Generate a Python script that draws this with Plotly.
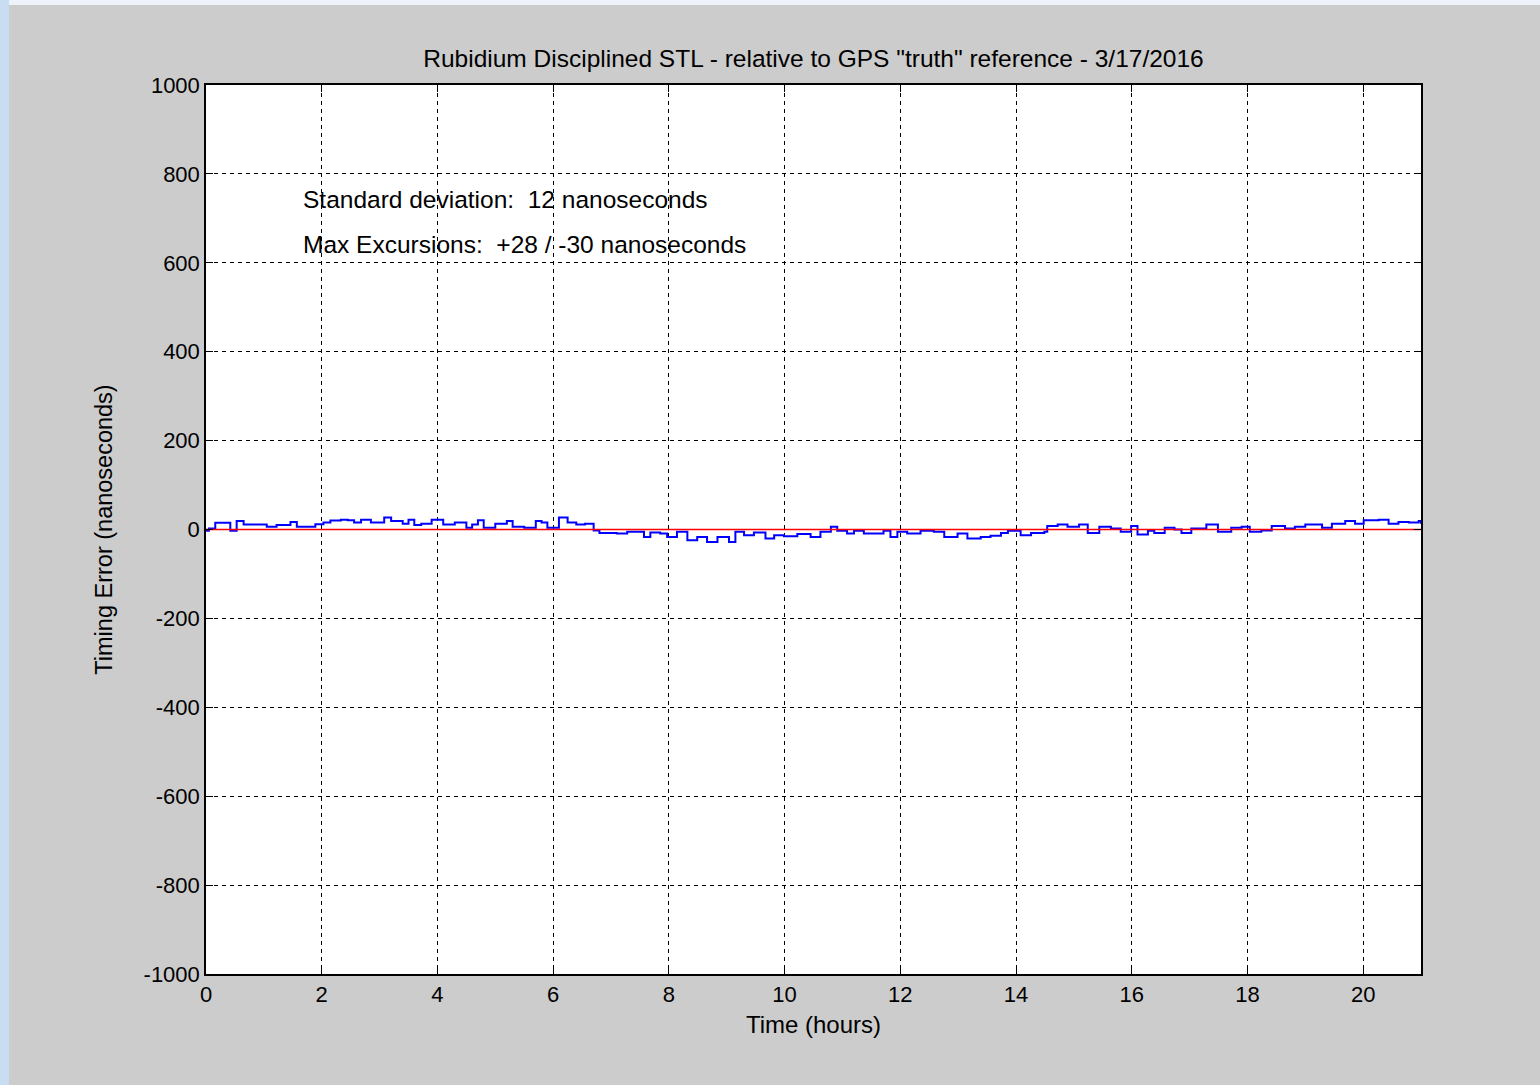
import plotly.graph_objects as go

hours = [0.0, 0.05, 0.16, 0.33, 0.42, 0.53, 0.65, 0.94, 1.05, 1.22, 1.46, 1.57, 1.80, 1.89,
         2.03, 2.15, 2.33, 2.45, 2.56, 2.68, 2.85, 3.08, 3.20, 3.30, 3.40, 3.50, 3.60, 3.72,
         3.90, 4.00, 4.10, 4.30, 4.50, 4.60, 4.70, 4.80, 5.00, 5.20, 5.30, 5.50, 5.70, 5.80,
         5.90, 6.10, 6.25, 6.40, 6.55, 6.70, 6.80,
         6.93, 7.10, 7.28, 7.40, 7.57, 7.68, 7.85, 7.97, 8.14, 8.32, 8.49, 8.66, 8.84, 9.04,
         9.15, 9.30, 9.47, 9.58, 9.67, 9.82, 9.99, 10.22, 10.45, 10.62, 10.80, 10.91, 11.08,
         11.20, 11.37, 11.54, 11.71, 11.83, 11.95, 12.12, 12.35, 12.58, 12.76, 12.99, 13.16,
         13.39, 13.56, 13.74, 13.86,
         14.08, 14.26, 14.49, 14.54, 14.72, 14.89, 15.09, 15.24, 15.44, 15.64, 15.81, 15.99,
         16.10, 16.28, 16.39, 16.57, 16.74, 16.86, 17.03, 17.29, 17.49, 17.72, 17.90, 18.04,
         18.24, 18.42, 18.65, 18.82, 19.00, 19.29, 19.46, 19.69, 19.86, 20.01, 20.27, 20.44,
         20.61, 20.79, 20.96, 21.0]
error_ns = [-3, 2, 15, 15, -3, 19, 11, 11, 6, 10, 17, 6, 6, 12,
            16, 20, 22, 21, 16, 22, 16, 27, 19, 19, 13, 22, 10, 13,
            22, 22, 11, 16, 4, 11, 21, 4, 13, 19, 6, 4, 19, 16,
            4, 27, 16, 11, 13, -2, -8,
            -8, -9, -5, -5, -17, -7, -9, -17, -5, -24, -17, -28, -17, -28,
            -5, -13, -7, -7, -20, -13, -15, -10, -17, -5, 6, -3, -9,
            -3, -9, -9, -3, -17, -5, -9, -3, -5, -17, -9, -20,
            -17, -14, -8, -3,
            -13, -8, -5, 8, 11, 6, 11, -8, 6, 2, -5, 8,
            -11, -3, -8, 4, 0, -8, 2, 11, -5, 4, 6, -5,
            -2, 8, 2, 6, 11, 4, 13, 19, 13, 21, 22, 13,
            17, 16, 19, 13]

ref_hours = [0, 21]
ref_values = [0, 0]

x_ticks = [0, 2, 4, 6, 8, 10, 12, 14, 16, 18, 20]
y_ticks = [-1000, -800, -600, -400, -200, 0, 200, 400, 600, 800, 1000]

title_text = 'Rubidium Disciplined STL - relative to GPS "truth" reference - 3/17/2016'
notes = ["Standard deviation:  12 nanoseconds", "Max Excursions:  +28 / -30 nanoseconds"]
note_y = [743, 642]

FONT = "Liberation Sans, Arial, sans-serif"

fig = go.Figure()
fig.add_trace(go.Scatter(x=hours, y=error_ns, mode="lines", line=dict(color="#0000ff", width=2),
                         line_shape="hv", showlegend=False, hoverinfo="skip"))
fig.add_trace(go.Scatter(x=ref_hours, y=ref_values, mode="lines", line=dict(color="#ff0000", width=1.5),
                         showlegend=False, hoverinfo="skip"))

for t, yv in zip(notes, note_y):
    fig.add_annotation(x=1.64, y=yv, xref="x", yref="y", text=t, showarrow=False,
                       xanchor="left", yanchor="middle", font=dict(family=FONT, size=24.5, color="#000"))

axis_common = dict(showline=True, linecolor="#000", linewidth=1.5, mirror="ticks",
                   showgrid=True, gridcolor="#000", gridwidth=1, griddash="4px,4px",
                   zeroline=False, ticks="inside", ticklen=7, tickcolor="#000",
                   tickfont=dict(family=FONT, size=22, color="#000"))

fig.update_xaxes(range=[0, 21], tickvals=x_ticks, ticktext=[str(v) for v in x_ticks],
                 title=dict(text="Time (hours)", font=dict(family=FONT, size=24, color="#000"), standoff=10),
                 **axis_common)
fig.update_yaxes(range=[-1000, 1000], tickvals=y_ticks, ticktext=[str(v) for v in y_ticks],
                 title=dict(text="Timing Error (nanoseconds)", font=dict(family=FONT, size=23.5, color="#000"), standoff=24),
                 **axis_common)

# background decorations (left blue strip, top light strip) in paper coordinates
L, R, T, B = 206, 119, 85, 111
W, H = 1540, 1085
pw, ph = W - L - R, H - T - B
def px(p):
    return (p - L) / pw
def py(q):
    return (H - B - q) / ph

fig.add_shape(type="rect", xref="paper", yref="paper", x0=px(0), x1=px(9), y0=py(H), y1=py(0),
              fillcolor="#c9ddf2", line=dict(width=0), layer="below")
fig.add_shape(type="rect", xref="paper", yref="paper", x0=px(9), x1=px(W), y0=py(5), y1=py(0),
              fillcolor="#eef3f9", line=dict(width=0), layer="below")

fig.update_layout(
    width=W, height=H,
    margin=dict(l=L, r=R, t=T, b=B, pad=0),
    paper_bgcolor="#cccccc", plot_bgcolor="#ffffff",
    title=dict(text=title_text, x=(813.5) / W, xanchor="center", y=1 - 58 / H, yanchor="middle",
               font=dict(family=FONT, size=24.5, color="#000")),
    font=dict(family=FONT, size=22, color="#000"),
)

fig.write_html("out.html", config={"displayModeBar": False},
               post_script="document.body.style.margin='0';document.body.style.overflow='hidden';")
